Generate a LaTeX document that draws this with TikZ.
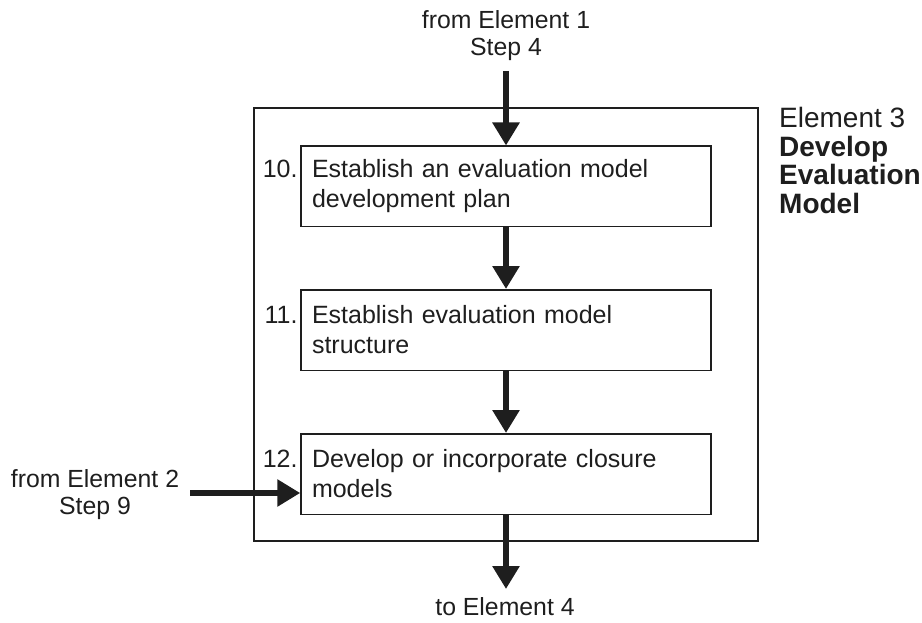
\documentclass[tikz,border=0pt]{standalone}
\usepackage{fontspec}
\setmainfont{Liberation Sans}
\usetikzlibrary{arrows.meta}
\definecolor{ink}{HTML}{1E1E1E}
\begin{document}
\begin{tikzpicture}[x=1pt,y=-1pt,
  stepbox/.style={draw=ink, line width=1.5pt, minimum width=410pt, minimum height=80.5pt,
    text width=388pt, inner xsep=11pt, inner ysep=0pt, align=left,
    font=\fontsize{25}{30}\selectfont, text=ink},
  numlabel/.style={anchor=base east, inner sep=0pt, font=\fontsize{25}{30}\selectfont, text=ink},
  lbl/.style={inner sep=0pt, align=center, font=\fontsize{24.8}{27.5}\selectfont, text=ink},
  arr/.style={draw=ink, line width=6pt, -{Triangle[width=26pt,length=23pt]}},
]
\useasboundingbox (0,0) rectangle (922,623);

% outer frame
\node (outer) [draw=ink, line width=2.2pt, minimum width=504pt, minimum height=433pt, inner sep=0pt] at (506,324.5) {};

% steps
\node (b10) [stepbox] at (506,186.5) {Establish an evaluation model\\development plan};
\node (b11) [stepbox] at (506,330) {Establish evaluation model\\structure};
\node (b12) [stepbox] at (506,474) {Develop or incorporate closure\\models};

\node (n10) [numlabel] at ([xshift=-2.5pt]b10.base west) {10.};
\node (n11) [numlabel] at ([xshift=-2.5pt]b11.base west) {11.};
\node (n12) [numlabel] at ([xshift=-2.5pt]b12.base west) {12.};

% title at right
\node (title) [anchor=north west, inner sep=0pt, align=left, font=\fontsize{28}{28.5}\selectfont, text=ink]
  at (779,107.5) {Element 3\\\textbf{Develop}\\\textbf{Evaluation}\\\textbf{Model}};

% external labels
\node (from1) [lbl, anchor=north] at (506,10) {from Element 1\\Step 4};
\node (from2) [lbl, anchor=north] at (95,469) {from Element 2\\Step 9};
\node (to4) [lbl, anchor=base] at (505,615) {to Element 4};

% connector ends
\coordinate (t1) at (506,71);
\coordinate (l2) at (190,493);
\coordinate (e4) at (506,589);

% connectors
\draw[arr] (t1) -- (b10.north);
\draw[arr] (b10.south) -- (b11.north);
\draw[arr] (b11.south) -- (b12.north);
\draw[arr] (l2) -- (l2 -| b12.west);
\draw[arr] (b12.south) -- (e4);
\end{tikzpicture}
\end{document}
